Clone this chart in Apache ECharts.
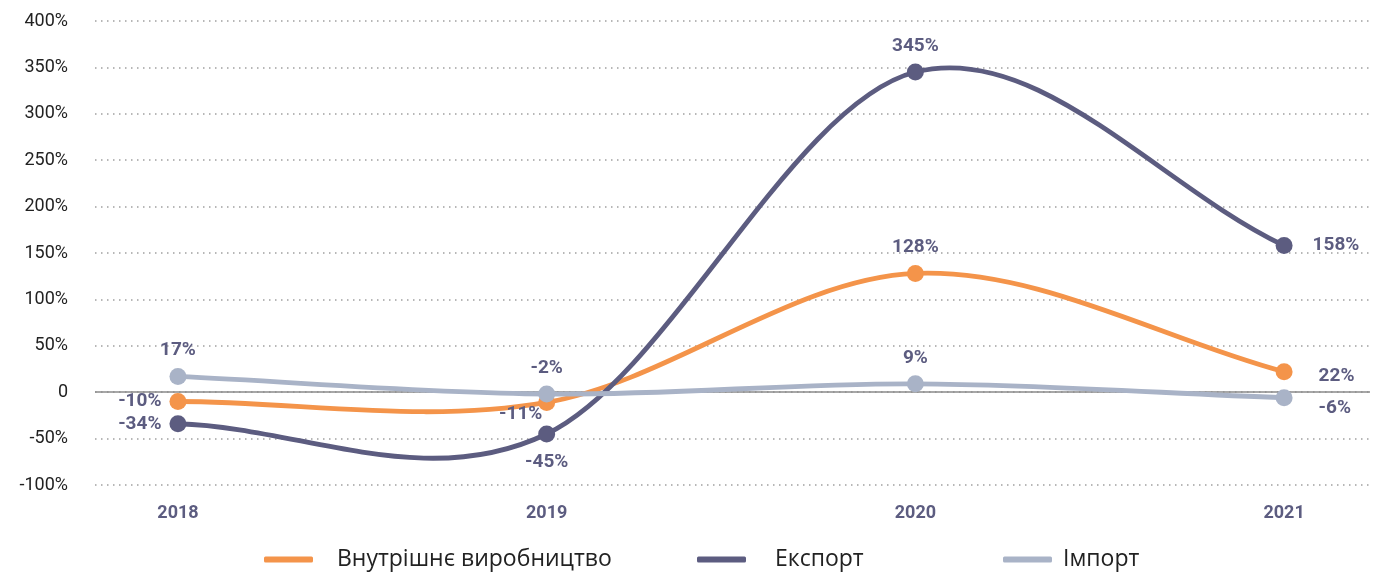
<!DOCTYPE html>
<html>
<head>
<meta charset="utf-8">
<script src="https://cdn.jsdelivr.net/npm/echarts@6/dist/echarts.min.js"></script>
<style>
  html, body { margin: 0; padding: 0; background: #fff; }
  #chart { width: 1378px; height: 574px; }
</style>
</head>
<body>
<div id="chart"></div>
<script>
// Years on the horizontal axis
const years = [2018, 2019, 2020, 2021];

// Year-over-year change, %
const domestic = [-10, -11, 128, 22];    // Внутрішнє виробництво
const exportVals = [-34, -45, 345, 158]; // Експорт
const importVals = [17, -2, 9, -6];      // Імпорт

const seriesNames = ['Внутрішнє виробництво', 'Експорт', 'Імпорт'];

// Value-axis ticks
const yTicks = [-100, -50, 0, 50, 100, 150, 200, 250, 300, 350, 400];

const COLORS = ['#F4944A', '#5C5C80', '#A9B3C7'];
const LABEL_COLOR = '#5C5C80';
const LABEL_FONT = 'Roboto, "DejaVu Sans", sans-serif';

// Per-point label placement for each series
const domesticLabels = [
  { position: 'left', distance: 8 },
  { position: 'bottom', offset: [-26, -11] },
  { position: 'top', distance: 8 },
  { position: 'right', distance: 26, offset: [0, 4] }
];
const exportLabels = [
  { position: 'left', distance: 8 },
  { position: 'bottom', distance: 10 },
  { position: 'top', distance: 8 },
  { position: 'right', distance: 20 }
];
const importLabels = [
  { position: 'top', distance: 8 },
  { position: 'top', distance: 8 },
  { position: 'top', distance: 8 },
  { position: 'right', distance: 26, offset: [0, 10] }
];

function buildData(values, labels) {
  return values.map((v, i) => ({
    value: [years[i], v],
    label: Object.assign({ show: true }, labels[i])
  }));
}

// Markers and value labels of one series (the curve itself is drawn separately)
function pointSeries(name, values, labels, color, z) {
  return {
    name: name,
    type: 'line',
    z: z,
    symbol: 'circle',
    symbolSize: 17,
    lineStyle: { width: 0, opacity: 0 },
    itemStyle: { color: color },
    label: {
      show: true,
      formatter: p => p.value[1] + '%',
      color: LABEL_COLOR,
      fontFamily: LABEL_FONT,
      fontWeight: 'bold',
      fontSize: 19
    },
    data: buildData(values, labels)
  };
}

// Smooth curve through the points: Catmull-Rom tangents, converted to cubic Bezier segments
function curveSeries(values, color, z) {
  return {
    type: 'custom',
    coordinateSystem: 'cartesian2d',
    z: z,
    silent: true,
    data: values.map((v, i) => [years[i], v]),
    renderItem: function (params, api) {
      if (params.dataIndex !== 0) return null;
      const pts = values.map((v, i) => api.coord([years[i], v]));
      const n = pts.length;
      const tan = pts.map((p, i) => {
        if (i === 0) return [pts[1][0] - p[0], pts[1][1] - p[1]];
        if (i === n - 1) return [p[0] - pts[i - 1][0], p[1] - pts[i - 1][1]];
        return [(pts[i + 1][0] - pts[i - 1][0]) / 2, (pts[i + 1][1] - pts[i - 1][1]) / 2];
      });
      let d = 'M' + pts[0][0] + ' ' + pts[0][1];
      for (let i = 0; i < n - 1; i++) {
        const c1 = [pts[i][0] + tan[i][0] / 3, pts[i][1] + tan[i][1] / 3];
        const c2 = [pts[i + 1][0] - tan[i + 1][0] / 3, pts[i + 1][1] - tan[i + 1][1] / 3];
        d += ' C' + c1[0] + ' ' + c1[1] + ' ' + c2[0] + ' ' + c2[1] + ' ' + pts[i + 1][0] + ' ' + pts[i + 1][1];
      }
      return {
        type: 'path',
        shape: { pathData: d },
        style: { stroke: color, lineWidth: 4.8, fill: 'none', lineCap: 'round', lineJoin: 'round' }
      };
    }
  };
}

const chart = echarts.init(document.getElementById('chart'), null, { renderer: 'canvas' });

const legendText = {
  fontFamily: '"Open Sans", Roboto, sans-serif',
  fontWeight: 400,
  fontSize: 23,
  color: '#222222'
};
const legendBase = {
  top: 548,
  padding: 0,
  icon: 'roundRect',
  itemWidth: 49,
  itemHeight: 6,
  selectedMode: false
};

const option = {
  animation: false,
  backgroundColor: '#ffffff',
  grid: { left: 95, right: 8, top: 21, bottom: 89, containLabel: false },
  legend: [
    Object.assign({}, legendBase, { left: 264, data: [seriesNames[0]], textStyle: Object.assign({}, legendText, { padding: [0, 0, 0, 19] }) }),
    Object.assign({}, legendBase, { left: 697, data: [seriesNames[1]], textStyle: Object.assign({}, legendText, { padding: [0, 0, 0, 24] }) }),
    Object.assign({}, legendBase, { left: 1003, data: [seriesNames[2]], textStyle: Object.assign({}, legendText, { padding: [0, 0, 0, 6] }) })
  ],
  xAxis: {
    type: 'value',
    min: 2017.775,
    max: 2021.233,
    axisLine: { show: false },
    axisTick: { show: false },
    splitLine: { show: false },
    axisLabel: {
      customValues: years,
      margin: 19,
      color: LABEL_COLOR,
      fontFamily: LABEL_FONT,
      fontWeight: 'bold',
      fontSize: 18,
      formatter: v => String(v)
    }
  },
  yAxis: {
    type: 'value',
    min: yTicks[0],
    max: yTicks[yTicks.length - 1],
    interval: 50,
    axisLine: { show: false },
    axisTick: { show: false },
    axisLabel: {
      margin: 27,
      color: '#222222',
      fontFamily: LABEL_FONT,
      fontSize: 18,
      formatter: v => (v === 0 ? '0' : v + '%')
    },
    splitLine: {
      show: true,
      lineStyle: { color: '#a0a0a0', width: 1.5, type: [1.5, 4.5] }
    }
  },
  series: [
    curveSeries(domestic, COLORS[0], 2),
    curveSeries(exportVals, COLORS[1], 2),
    curveSeries(importVals, COLORS[2], 2),
    Object.assign(pointSeries(seriesNames[0], domestic, domesticLabels, COLORS[0], 3), {
      markLine: {
        silent: true,
        symbol: 'none',
        z: 1,
        label: { show: false },
        lineStyle: { color: '#8a8a8a', width: 1.5, type: 'solid' },
        data: [{ yAxis: 0 }]
      }
    }),
    pointSeries(seriesNames[1], exportVals, exportLabels, COLORS[1], 4),
    pointSeries(seriesNames[2], importVals, importLabels, COLORS[2], 5)
  ]
};

chart.setOption(option);
</script>
</body>
</html>
